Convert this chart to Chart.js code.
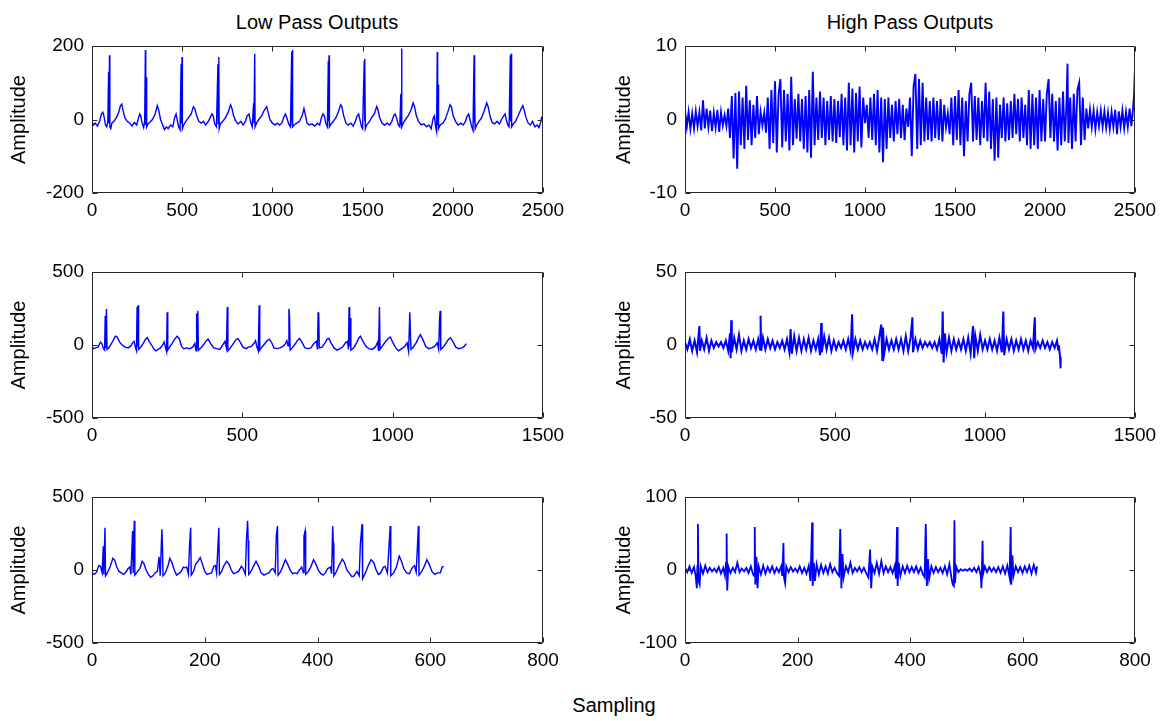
<!DOCTYPE html>
<html>
<head>
<meta charset="utf-8">
<script src="https://cdn.jsdelivr.net/npm/chart.js@4.4.1/dist/chart.umd.min.js"></script>
<style>
  body { margin: 0; background: #fff; width: 1167px; height: 721px; position: relative; overflow: hidden; font-family: "Liberation Sans", Arial, sans-serif; }
  canvas { position: absolute; }
  .lbl { position: absolute; font-size: 20px; color: #000; white-space: nowrap; transform: translate(-50%, -50%); }
</style>
</head>
<body>
<div class="lbl" style="left:317px;top:22px">Low Pass Outputs</div>
<div class="lbl" style="left:910px;top:22px">High Pass Outputs</div>
<div class="lbl" style="left:614px;top:705px">Sampling</div>

<canvas id="lp1" width="580" height="207" style="left:0;top:26px"></canvas>
<canvas id="hp1" width="577" height="207" style="left:590px;top:26px"></canvas>
<canvas id="lp2" width="580" height="206" style="left:0;top:252px"></canvas>
<canvas id="hp2" width="577" height="206" style="left:590px;top:252px"></canvas>
<canvas id="lp3" width="580" height="206" style="left:0;top:477px"></canvas>
<canvas id="hp3" width="577" height="206" style="left:590px;top:477px"></canvas>

<script>
// sample index, amplitude pairs
const lowPass1 = [
  0,-5, 8,-15, 18,-10, 30,-18, 42,-5, 52,15, 60,20, 66,10, 75,-15, 82,-20, 88,-5, 92,130, 94,-10, 97,175, 99,-20, 104,-25, 110,-10, 122,-5, 135,5, 148,20, 158,38, 165,42, 172,25, 182,5, 195,-5,
  210,-10, 222,-18, 235,-8, 248,-15, 258,5, 265,15, 270,10, 278,-10, 286,-22, 292,-5, 296,189, 298,-15, 301,115, 303,-20, 310,-12, 320,-8, 335,0, 350,15, 362,38, 370,25, 380,0, 392,-15,
  402,-28, 412,-20, 422,-25, 435,-15, 448,-20, 458,5, 466,15, 472,0, 480,-20, 488,-28, 494,150, 496,-10, 499,170, 501,-25, 508,-15, 520,-5, 535,5, 550,15, 562,35, 570,30, 580,10, 592,-5,
  605,-10, 618,-5, 630,-15, 645,-5, 655,5, 665,15, 672,10, 680,-12, 690,-20, 698,150, 700,-10, 703,170, 705,-25, 712,-12, 725,-5, 740,5, 755,20, 768,40, 776,30, 785,10, 798,-5,
  810,-12, 825,-5, 838,-15, 850,-5, 860,10, 870,15, 878,-5, 888,-20, 896,45, 898,-10, 902,179, 904,-20, 912,-10, 925,0, 940,10, 955,25, 968,35, 976,20, 986,0, 1000,-10,
  1015,-15, 1028,-10, 1040,-15, 1052,-10, 1062,5, 1072,15, 1080,5, 1090,-12, 1100,-20, 1107,185, 1109,-10, 1111,189, 1113,-20, 1120,-15, 1135,-10, 1150,-5, 1165,10, 1175,30, 1182,15, 1192,-10,
  1205,-15, 1220,-12, 1235,-18, 1250,-10, 1262,-15, 1272,5, 1280,15, 1288,10, 1296,-10, 1305,-20, 1310,160, 1312,-5, 1314,175, 1316,-20, 1325,-12, 1338,-5, 1352,5, 1365,20, 1378,40, 1385,35, 1395,10,
  1408,-10, 1420,-15, 1435,-10, 1448,-18, 1460,-5, 1470,10, 1478,15, 1485,0, 1494,-20, 1500,-25, 1509,160, 1511,-5, 1513,165, 1515,-25, 1522,-15, 1535,-8, 1550,5, 1565,15, 1578,35, 1586,25, 1595,5,
  1608,-10, 1622,-15, 1636,-10, 1650,-15, 1662,-5, 1672,10, 1680,15, 1688,5, 1698,-15, 1706,-20, 1712,70, 1714,-10, 1716,193, 1718,-20, 1725,-10, 1738,0, 1752,10, 1768,25, 1780,45, 1788,35, 1798,10,
  1810,-5, 1825,-15, 1840,-12, 1855,-20, 1868,-15, 1880,-25, 1892,5, 1898,10, 1905,-20, 1910,-32, 1914,184, 1916,-15, 1919,95, 1921,-25, 1930,-15, 1945,-10, 1958,0, 1972,20, 1985,40, 1992,35, 2002,10,
  2015,-5, 2030,-15, 2045,-10, 2058,-15, 2070,-5, 2080,10, 2088,15, 2095,0, 2105,-20, 2112,-30, 2118,175, 2120,-10, 2122,65, 2124,-25, 2132,-15, 2145,-5, 2160,5, 2175,25, 2188,45, 2196,35, 2206,10,
  2218,-8, 2232,-12, 2245,-5, 2258,-12, 2270,0, 2282,10, 2290,15, 2296,0, 2305,-15, 2312,-20, 2319,175, 2321,-5, 2323,179, 2325,150, 2327,-20, 2335,-12, 2348,-5, 2362,10, 2375,25, 2388,38, 2396,25,
  2406,5, 2418,-10, 2430,-15, 2442,-5, 2455,-20, 2468,-15, 2478,-22, 2486,-10, 2492,5, 2500,10
];

const highPass1 = [
  0,1.2, 10,-1.0, 20,1.0, 30,-1.3, 40,0.8, 50,-1.2, 60,1.1, 70,-0.9, 80,1.0, 90,-1.5, 100,2.6, 110,-1.2, 120,1.5, 130,-1.0, 140,1.2, 150,-1.6, 160,0.9, 170,-1.1, 180,1.3, 190,-1.7, 200,1.0, 210,-0.8, 220,0.6, 230,-0.9,
  240,1.5, 250,-2.5, 260,3.2, 270,-5.3, 280,3.6, 290,-6.7, 300,3.8, 310,-3.5, 320,3.0, 330,-4.0, 340,4.6, 350,-2.8, 360,2.6, 370,-3.5, 380,2.0, 390,-2.5, 400,3.2, 410,-2.0, 420,1.0, 430,-0.8, 440,0.9,
  450,-1.8, 460,3.0, 470,-4.0, 480,4.0, 490,-3.2, 500,5.2, 510,-4.5, 520,3.5, 530,5.5, 540,-3.8, 550,4.0, 560,-3.0, 570,3.5, 580,-4.2, 590,5.8, 600,-3.5, 610,2.8, 620,-2.6, 630,3.5, 640,-3.0, 650,2.8,
  660,-4.0, 670,3.2, 680,-4.5, 690,4.0, 700,-5.2, 710,6.5, 720,-3.5, 730,3.0, 740,-2.8, 750,3.8, 760,-2.5, 770,3.0, 780,-3.5, 790,2.5, 800,-2.8, 810,3.2, 820,-3.0, 830,2.8, 840,-3.2, 850,2.5, 860,-2.4,
  870,3.5, 880,-3.5, 890,3.0, 900,-4.2, 910,5.0, 920,-3.5, 930,4.2, 940,-4.5, 950,3.6, 960,-3.0, 970,4.5, 980,-3.8, 990,3.0, 1000,-0.5,
  1010,2.0, 1020,-2.5, 1030,3.0, 1040,-2.8, 1050,3.5, 1060,-3.5, 1070,4.0, 1080,-4.5, 1090,3.0, 1100,-5.8, 1110,2.8, 1120,-4.0, 1130,3.0, 1140,-2.5, 1150,2.0, 1160,-3.0, 1170,2.5, 1180,-2.0, 1190,2.8,
  1200,-2.5, 1210,2.0, 1220,-2.8, 1230,1.5, 1240,-1.0,
  1250,3.0, 1260,-5.0, 1270,4.5, 1280,6.2, 1290,-4.0, 1300,5.5, 1310,-3.5, 1320,5.0, 1330,-3.0, 1340,3.0, 1350,-2.8, 1360,2.5, 1370,-3.0, 1380,3.0, 1390,-2.5, 1400,2.5, 1410,-2.8, 1420,2.8, 1430,-3.0,
  1440,2.0, 1450,-1.0, 1460,0.8,
  1470,-2.0, 1480,3.0, 1490,-3.5, 1500,3.2, 1510,-2.8, 1520,4.0, 1530,-3.5, 1540,3.0, 1550,-5.0, 1560,2.5, 1570,-3.0, 1580,3.5, 1590,5.0, 1600,-3.0, 1610,3.2, 1620,-2.8, 1630,3.0, 1640,-3.5, 1650,2.5,
  1660,-2.5, 1670,5.0, 1680,-3.0, 1690,3.8, 1700,-4.0, 1710,2.8, 1720,-5.6, 1730,3.0, 1740,-5.2, 1750,2.0,
  1760,-2.5, 1770,3.0, 1780,-3.0, 1790,2.2, 1800,-2.8, 1810,2.5, 1820,-2.5, 1830,3.5, 1840,-2.0, 1850,2.8, 1860,-3.0, 1870,3.0, 1880,-2.5, 1890,2.0, 1900,-3.5,
  1910,4.0, 1920,-4.0, 1930,3.5, 1940,-3.5, 1950,3.0, 1960,-4.0, 1970,4.0, 1980,-3.0, 1990,2.8, 2000,-3.0, 2010,3.5, 2020,5.5, 2030,-2.5, 2040,3.5, 2050,-3.0, 2060,2.5, 2070,-4.2, 2080,3.0, 2090,-3.5,
  2100,3.8, 2110,-3.0, 2120,2.5, 2125,7.6, 2130,-3.2, 2140,3.0, 2150,-4.0, 2160,3.5, 2170,-3.0, 2180,4.0, 2190,5.0, 2200,-3.5, 2210,3.0, 2220,-2.8, 2230,1.5,
  2240,-1.2, 2250,1.3, 2260,-1.0, 2270,1.2, 2280,-1.3, 2290,1.0, 2300,-0.9, 2310,1.2, 2320,-1.0, 2330,1.1, 2340,-1.1, 2350,0.9, 2360,-1.3, 2370,1.0, 2380,-1.0, 2390,1.3, 2400,-2.0, 2410,1.1, 2420,-1.0,
  2430,1.2, 2440,-1.2, 2450,1.0, 2460,-1.0, 2470,1.5, 2480,-0.9, 2490,1.7, 2495,3.5, 2500,7.0
];

const lowPass2 = [
  0,-10, 5,-25, 12,-20, 20,-15, 28,20, 33,10, 38,-25, 42,-35, 44,200, 46,-20, 48,247, 50,-30, 55,-20, 62,0, 70,30, 78,60, 84,55, 92,20, 100,0, 110,-15, 120,-20, 128,-10, 135,15, 140,25, 145,-20,
  148,-40, 150,260, 152,-10, 153,272, 155,-30, 162,-15, 170,10, 178,40, 184,50, 190,25, 198,0, 205,-25, 212,-40, 220,-30, 228,-20, 235,0, 240,20, 245,-20, 248,-45, 250,224, 252,-35, 258,-15, 266,10,
  275,40, 283,60, 290,45, 298,-10, 305,-25, 315,-20, 325,-25, 335,-15, 342,10, 346,-40, 348,215, 350,-20, 352,235, 354,-35, 362,-20, 372,5, 380,30, 386,40, 395,10, 405,-20, 415,-25, 425,-30, 435,0,
  442,25, 447,-20, 450,260, 452,-40, 460,-20, 470,10, 478,35, 485,45, 493,20, 502,-15, 512,-25, 520,-15, 530,-10, 538,10, 544,30, 548,-10, 553,-40, 556,272, 558,-35, 565,-15, 575,10, 583,30, 590,40,
  598,15, 605,-20, 615,-25, 625,-20, 635,-10, 642,5, 648,30, 652,-5, 655,248, 657,190, 659,-35, 666,-20, 675,5, 683,30, 690,45, 698,20, 708,-20, 718,-25, 728,-20, 738,10, 746,25, 750,-30, 752,220,
  754,224, 756,-20, 765,-15, 775,15, 782,40, 788,45, 795,15, 805,-20, 815,-35, 825,-25, 835,-10, 843,15, 850,25, 853,-30, 855,260, 857,-10, 859,185, 861,-35, 870,-20, 880,15, 888,50, 893,60, 900,30,
  910,-5, 920,-25, 932,-30, 942,-15, 950,20, 953,-40, 956,260, 958,-30, 965,-10, 975,20, 985,45, 992,55, 1000,20, 1010,-20, 1020,-40, 1030,-25, 1040,-10, 1048,15, 1053,-45, 1057,224, 1059,80, 1061,-30,
  1068,-15, 1078,15, 1085,45, 1092,70, 1100,40, 1110,-10, 1120,-25, 1130,-20, 1140,-10, 1148,15, 1153,-30, 1156,180, 1158,235, 1160,-30, 1168,-15, 1178,15, 1186,40, 1192,50, 1200,25, 1210,-15,
  1220,-25, 1230,-20, 1238,-10, 1245,10
];

const highPass2 = [
  0,2, 8,-3, 16,4, 24,-4, 32,3, 40,-5, 48,13, 50,-4, 56,3, 64,-3, 72,5, 80,-4, 88,3, 96,-2, 104,2, 112,-1, 120,2, 128,-2, 136,3, 144,-4, 150,8, 152,-9, 154,17, 156,-5, 164,5, 172,-3, 180,7, 188,-4,
  196,3, 204,-3, 212,4, 220,-2, 228,3, 236,-3, 244,4, 250,-3, 252,20, 254,-4, 260,5, 268,-3, 276,4, 284,-2, 292,3, 300,-3, 308,2, 316,-2, 324,3, 332,-3, 340,4, 348,-5, 352,11, 356,-6, 364,6, 372,-4,
  380,5, 388,-4, 396,4, 404,-3, 412,5, 420,-4, 428,3, 436,-3, 444,4, 450,-7, 454,15, 456,-5, 464,6, 472,-3, 480,5, 488,-4, 496,3, 504,-3, 512,2, 520,-2, 528,3, 536,-3, 544,4, 552,-4, 557,21, 560,-5,
  568,4, 576,-3, 584,3, 592,-3, 600,2, 608,-2, 616,2, 624,-3, 632,4, 640,-4, 648,6, 654,14, 658,-11, 660,12, 664,-6, 672,4, 680,-3, 688,3, 696,-3, 704,4, 712,-3, 720,4, 728,-4, 736,6, 744,-4, 752,5,
  758,19, 760,-5, 768,4, 776,-3, 784,3, 792,-2, 800,2, 808,-1, 816,2, 824,-2, 832,2, 840,-3, 848,4, 856,-6, 859,23, 862,-12, 866,8, 872,-5, 880,5, 888,-4, 896,4, 904,-3, 912,3, 920,-3, 928,4, 936,-4,
  944,5, 952,-6, 960,13, 964,-9, 968,6, 976,-4, 984,7, 992,-3, 1000,3, 1008,-3, 1016,4, 1024,-3, 1032,3, 1040,-4, 1048,5, 1056,-5, 1061,23, 1064,-7, 1072,4, 1080,-3, 1088,4, 1096,-4, 1104,3, 1112,-3,
  1120,4, 1128,-3, 1136,3, 1144,-4, 1152,3, 1160,-2, 1166,19, 1168,-3, 1176,2, 1184,-2, 1192,3, 1200,-2, 1208,2, 1216,-3, 1224,2, 1232,-2, 1240,3, 1244,-3, 1246,0, 1250,-8, 1252,-16
];

const lowPass3 = [
  0,-20, 4,-30, 8,-15, 12,30, 15,25, 18,-20, 20,163, 21,-30, 23,290, 24,-40, 27,-20, 32,20, 37,80, 40,70, 44,20, 48,-10, 52,-20, 56,-30, 60,-15, 64,10, 67,20, 69,-30, 72,267, 73,-20, 75,337, 76,-35,
  80,-15, 85,10, 89,60, 92,45, 96,0, 100,-30, 104,-50, 108,-40, 112,-20, 116,-10, 119,90, 121,-40, 124,279, 125,150, 126,-40, 130,-20, 135,30, 138,80, 142,50, 146,0, 150,-35, 154,-25, 158,-10, 162,20,
  165,15, 168,20, 171,-30, 173,163, 175,290, 176,-35, 180,-10, 184,40, 188,60, 192,85, 196,40, 200,-10, 204,-30, 208,-25, 212,-20, 216,25, 219,30, 221,-20, 225,290, 226,-30, 230,-10, 234,30, 239,60,
  243,40, 247,0, 251,-25, 255,-20, 260,-10, 265,25, 268,10, 272,-30, 274,209, 276,337, 277,200, 278,-30, 282,-10, 287,30, 291,60, 295,30, 300,-20, 305,-35, 310,-25, 314,-20, 318,5, 321,10, 325,-20,
  327,232, 329,302, 330,-35, 334,-15, 339,30, 343,70, 347,40, 352,-5, 356,-25, 360,-20, 364,-25, 368,0, 372,20, 375,-20, 376,232, 378,267, 379,-30, 383,-15, 388,20, 393,70, 397,40, 402,-5, 406,-25,
  410,-35, 414,-20, 418,10, 423,20, 425,-25, 427,302, 428,186, 429,-40, 433,-15, 438,30, 444,75, 448,50, 452,0, 456,-20, 461,-45, 465,-40, 470,-10, 474,-40, 476,175, 479,314, 480,-60, 485,-20, 490,30,
  495,70, 500,50, 504,0, 508,-30, 512,-20, 517,20, 520,25, 524,-20, 527,175, 529,302, 530,-40, 535,-20, 540,20, 545,95, 549,60, 553,10, 558,-20, 563,-25, 568,15, 572,30, 575,-15, 577,140, 579,302,
  580,-35, 585,-10, 590,30, 594,70, 598,40, 603,-10, 608,-30, 613,-20, 618,-20, 621,20, 624,25
];

const highPass3 = [
  0,3, 4,-3, 8,5, 12,-4, 16,4, 19,-8, 21,-25, 22,5, 23,63, 24,-15, 26,-20, 28,5, 32,-5, 36,6, 40,-3, 44,3, 48,-2, 52,2, 56,-3, 60,4, 64,-5, 68,3, 71,-8, 73,10, 74,50, 75,-28, 77,5, 81,-4, 85,3,
  89,-3, 93,10, 97,-3, 101,2, 105,-2, 109,3, 113,-4, 117,5, 121,-6, 123,-8, 124,59, 125,-20, 127,18, 129,-25, 131,5, 135,-6, 139,6, 143,-5, 147,4, 151,-3, 155,5, 159,-4, 163,3, 167,-3, 171,5, 173,-8,
  175,37, 176,-10, 178,-18, 180,5, 184,-3, 188,4, 192,-2, 196,2, 200,-3, 204,5, 208,-4, 212,3, 216,-5, 220,6, 223,-15, 226,65, 227,-22, 229,10, 231,-15, 234,8, 238,-6, 242,7, 246,-4, 250,5, 254,-5,
  258,8, 262,-3, 266,3, 270,-4, 274,-8, 276,56, 278,-25, 280,22, 282,-10, 286,5, 290,-3, 294,10, 298,-4, 302,3, 306,-2, 310,4, 314,-3, 318,3, 322,-4, 326,-10, 329,28, 331,-25, 333,5, 337,-4, 341,10,
  345,-5, 349,12, 353,-4, 357,5, 361,-3, 365,4, 369,-4, 373,6, 375,-12, 377,59, 378,-22, 380,10, 383,-8, 387,5, 391,-4, 395,6, 399,-3, 403,4, 407,-3, 411,5, 415,-4, 419,3, 423,-6, 426,-10, 428,63,
  430,-22, 432,15, 434,-12, 438,5, 442,-4, 446,4, 450,-3, 454,3, 458,-4, 462,5, 466,-6, 470,8, 474,-12, 476,-20, 478,-22, 479,68, 480,-18, 482,5, 486,-3, 490,1, 494,-1, 498,1, 502,-1, 506,2, 510,-2,
  514,3, 518,-3, 522,4, 526,-8, 527,-25, 529,40, 530,-5, 533,5, 537,-3, 541,4, 545,-2, 549,3, 553,-3, 557,4, 561,-4, 565,5, 569,-5, 573,6, 577,-10, 579,59, 580,-20, 582,20, 584,-8, 588,5, 592,-3,
  596,4, 600,-4, 604,5, 608,-3, 612,6, 616,-5, 620,7, 624,-4, 626,5
];

const ticks2500 = [0, 500, 1000, 1500, 2000, 2500];
const ticks1500 = [0, 500, 1000, 1500];
const ticks800 = [0, 200, 400, 600, 800];
const ticksLow1 = [-200, 0, 200];
const ticksHigh1 = [-10, 0, 10];
const ticksLow2 = [-500, 0, 500];
const ticksHigh2 = [-50, 0, 50];
const ticksLow3 = [-500, 0, 500];
const ticksHigh3 = [-100, 0, 100];

const FONT = '"Liberation Sans", Arial, sans-serif';

function toPoints(flat) {
  const pts = [];
  for (let i = 0; i < flat.length; i += 2) pts.push({ x: flat[i], y: flat[i + 1] });
  return pts;
}

// axes box with inward tick marks, like the original figure
const boxTicks = {
  id: 'boxTicks',
  afterDatasetsDraw(chart) {
    const { ctx, chartArea: a, scales: { x, y } } = chart;
    const l = Math.round(a.left) + 0.5, r = Math.round(a.right) - 0.5;
    const t = Math.round(a.top) + 0.5, b = Math.round(a.bottom) - 0.5;
    ctx.save();
    ctx.strokeStyle = '#262626';
    ctx.lineWidth = 1;
    ctx.beginPath();
    ctx.rect(l, t, r - l, b - t);
    x.ticks.forEach(tk => {
      const px = Math.round(x.getPixelForValue(tk.value)) + 0.5;
      ctx.moveTo(px, b); ctx.lineTo(px, b - 5);
      ctx.moveTo(px, t); ctx.lineTo(px, t + 5);
    });
    y.ticks.forEach(tk => {
      const py = Math.round(y.getPixelForValue(tk.value)) + 0.5;
      ctx.moveTo(l, py); ctx.lineTo(l + 5, py);
      ctx.moveTo(r, py); ctx.lineTo(r - 5, py);
    });
    ctx.stroke();
    ctx.restore();
  }
};

function makePanel(id, flat, xMax, xTicks, yTicks, leftCol, lineW) {
  new Chart(document.getElementById(id), {
    type: 'line',
    data: {
      datasets: [{
        data: toPoints(flat),
        borderColor: '#0000ff',
        borderWidth: lineW,
        pointRadius: 0,
        tension: 0,
        fill: false
      }]
    },
    options: {
      responsive: false,
      animation: false,
      events: [],
      layout: { padding: { top: 20, right: leftCol ? 37 : 32, bottom: 0, left: 0 } },
      plugins: { legend: { display: false }, tooltip: { enabled: false } },
      scales: {
        x: {
          type: 'linear',
          min: 0,
          max: xMax,
          grid: { display: false, drawTicks: false },
          border: { display: false },
          afterBuildTicks: s => { s.ticks = xTicks.map(v => ({ value: v })); },
          afterFit: s => { s.height = 40; },
          ticks: { color: '#000', padding: 6, maxRotation: 0, autoSkip: false, font: { family: FONT, size: 19 }, callback: v => String(v) }
        },
        y: {
          type: 'linear',
          min: yTicks[0],
          max: yTicks[yTicks.length - 1],
          grid: { display: false, drawTicks: false },
          border: { display: false },
          afterBuildTicks: s => { s.ticks = yTicks.map(v => ({ value: v })); },
          afterFit: s => { s.width = leftCol ? 92 : 95; },
          ticks: { color: '#000', padding: 8, autoSkip: false, font: { family: FONT, size: 19 }, callback: v => String(v) },
          title: { display: true, text: 'Amplitude', color: '#000', font: { family: FONT, size: 20 }, padding: { top: leftCol ? 7 : 22, bottom: 0 } }
        }
      }
    },
    plugins: [boxTicks]
  });
}

makePanel('lp1', lowPass1, 2500, ticks2500, ticksLow1, true, 1.4);
makePanel('hp1', highPass1, 2500, ticks2500, ticksHigh1, false, 1.9);
makePanel('lp2', lowPass2, 1500, ticks1500, ticksLow2, true, 1.4);
makePanel('hp2', highPass2, 1500, ticks1500, ticksHigh2, false, 2.0);
makePanel('lp3', lowPass3, 800, ticks800, ticksLow3, true, 1.4);
makePanel('hp3', highPass3, 800, ticks800, ticksHigh3, false, 1.8);
</script>
</body>
</html>
